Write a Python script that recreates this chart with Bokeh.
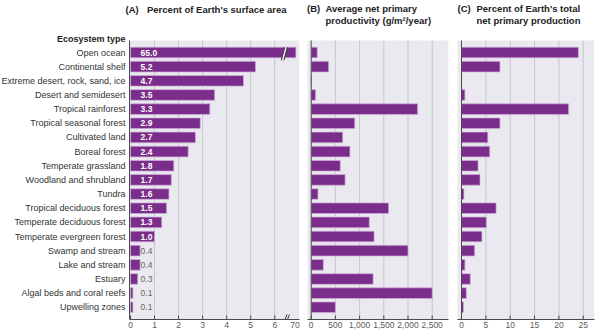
from bokeh.plotting import figure
from bokeh.models import ColumnDataSource, Range1d, FixedTicker, NumeralTickFormatter
from bokeh.layouts import row
from bokeh.embed import file_html
from bokeh.resources import INLINE
from bokeh.core.properties import value

# ---------------- data ----------------
ecosystems = [
    "Open ocean", "Continental shelf", "Extreme desert, rock, sand, ice",
    "Desert and semidesert", "Tropical rainforest", "Tropical seasonal forest",
    "Cultivated land", "Boreal forest", "Temperate grassland",
    "Woodland and shrubland", "Tundra", "Tropical deciduous forest",
    "Temperate deciduous forest", "Temperate evergreen forest",
    "Swamp and stream", "Lake and stream", "Estuary",
    "Algal beds and coral reefs", "Upwelling zones",
]
area_pct = [65.0, 5.2, 4.7, 3.5, 3.3, 2.9, 2.7, 2.4, 1.8, 1.7, 1.6, 1.5, 1.3, 1.0,
            0.4, 0.4, 0.3, 0.1, 0.1]
npp = [125, 360, 3, 90, 2200, 900, 650, 800, 600, 700, 140, 1600, 1200, 1300,
       2000, 250, 1280, 2500, 500]
npp_pct = [24.0, 7.9, 0.04, 0.7, 22.0, 7.9, 5.4, 5.8, 3.4, 3.8, 0.5, 7.1, 5.1, 4.2,
           2.7, 0.7, 1.8, 1.0, 0.4]

area_ticks = [0, 1, 2, 3, 4, 5, 6]
area_break_tick = 6.84
area_break_label = "70"
npp_ticks = [0, 500, 1000, 1500, 2000, 2500]
pct_ticks = [0, 5, 10, 15, 20, 25]

title_a = ("(A)", "Percent of Earth's surface area")
title_b = ("(B)", "Average net primary", "productivity (g/m\u00b2/year)")
title_c = ("(C)", "Percent of Earth's total", "net primary production")
header = "Ecosystem type"

# ---------------- style / geometry ----------------
FONT = "Liberation Sans"
BAR = "#7B2D8B"
BAR_EDGE = "#CFAED8"
BG = "#E9E9EF"
GRID = "#C6C6CD"
AXIS = "#4A4A4A"
TICKLBL = "#5A5A5A"
TITLE_SIZE = "9.5px"
H = 336
BOTTOM = 17
FRAME_H = H - BOTTOM            # frame spans canvas y 0..319
ROW0_PX = 52.0
ROW_PX = 14.155
PANEL_TOP_PX = 40
n = len(ecosystems)
rows = list(range(n))
Y_TOP = -ROW0_PX / ROW_PX
Y_BOT = (FRAME_H - ROW0_PX) / ROW_PX


def ypx(px):
    return Y_TOP + px * (Y_BOT - Y_TOP) / FRAME_H


def make_panel(width, canvas_left, frame_right_border, zero_px, px_per_unit, gray_left_px):
    frame_w = width - frame_right_border
    xs = (canvas_left - zero_px) / px_per_unit
    xe = xs + frame_w / px_per_unit
    gray_left = (gray_left_px - zero_px) / px_per_unit
    p = figure(width=width, height=H, x_range=Range1d(xs, xe),
               y_range=Range1d(Y_BOT, Y_TOP), output_backend="svg",
               toolbar_location=None, min_border_left=0,
               min_border_right=frame_right_border, min_border_top=0,
               min_border_bottom=BOTTOM, background_fill_color="white",
               border_fill_color="white", outline_line_color=None,
               y_axis_location=None, title=None)
    p.xgrid.grid_line_color = None
    p.ygrid.grid_line_color = None
    p.xaxis.bounds = (gray_left, xe)
    p.xaxis.axis_line_color = AXIS
    p.xaxis.major_tick_in = 0
    p.xaxis.major_tick_out = 0
    p.xaxis.minor_tick_line_color = None
    p.xaxis.major_label_standoff = 2
    p.xaxis.major_label_text_font = FONT
    p.xaxis.major_label_text_font_size = "8.5px"
    p.xaxis.major_label_text_color = TICKLBL
    # gray panel
    p.quad(left=[gray_left], right=[xe], top=[ypx(PANEL_TOP_PX)], bottom=[Y_BOT],
           fill_color=BG, line_color=None)
    to_x = lambda px: (px - zero_px) / px_per_unit
    return p, to_x, gray_left, xe


def grid_and_ticks(p, ticks):
    p.segment(x0=ticks[1:], y0=[ypx(PANEL_TOP_PX)] * (len(ticks) - 1),
              x1=ticks[1:], y1=[Y_BOT] * (len(ticks) - 1), line_color=GRID, line_width=1)
    p.segment(x0=ticks, y0=[Y_BOT] * len(ticks), x1=ticks, y1=[ypx(FRAME_H - 4)] * len(ticks),
              line_color=AXIS, line_width=1)


def txt(p, xs, ys, texts, size="10px", bold=True, align="left", color="#222222"):
    p.text(x=xs, y=ys, text=texts, text_font=value(FONT), text_font_size=value(size),
           text_font_style="bold" if bold else "normal", text_align=align,
           text_baseline="middle", text_color=color)


def bars(p, vals):
    src = ColumnDataSource(dict(row=rows, v=vals))
    p.hbar(y="row", right="v", left=0, height=0.75, source=src,
           fill_color=BAR, line_color=BAR_EDGE, line_width=0.7)


# ---------------- panel A ----------------
pA, xA, glA, xeA = make_panel(303, 0, 4, 130.0, 24.04, 129.0)
AREA_CAP = 6.88
grid_and_ticks(pA, area_ticks)
bars(pA, [min(v, AREA_CAP) for v in area_pct])
hi = [(i, v) for i, v in enumerate(area_pct) if v >= 1]
lo = [(i, v) for i, v in enumerate(area_pct) if v < 1]
txt(pA, [0.42] * len(hi), [i for i, _ in hi], [f"{v:.1f}" for _, v in hi],
    size="8.5px", color="white")
txt(pA, [0.42] * len(lo), [i for i, _ in lo], [f"{v:.1f}" for _, v in lo],
    size="8.5px", bold=False, color="#666666")
# left axis line
pA.segment(x0=[glA], y0=[ypx(PANEL_TOP_PX)], x1=[glA], y1=[Y_BOT], line_color=AXIS, line_width=1)
# category names
txt(pA, [xA(125)] * n, rows, ecosystems, size="9px", bold=False, align="right", color="#333333")
txt(pA, [xA(125)], [ypx(38.3)], [header], size="9px", align="right")
txt(pA, [xA(125), xA(146.5)], [ypx(9), ypx(9)], list(title_a), size=TITLE_SIZE)
# axis break marks
bx = 6.4
pA.patch([bx - 0.125, bx + 0.015, bx + 0.125, bx - 0.015],
         [0.55, -0.38, -0.38, 0.55], fill_color=BG, line_color=None)
pA.segment(x0=[bx - 0.125, bx - 0.015], y0=[0.55, 0.55],
           x1=[bx + 0.015, bx + 0.125], y1=[-0.38, -0.38], line_color="#333333", line_width=1)
abx = 6.53
pA.segment(x0=[abx - 0.1, abx], y0=[Y_BOT, Y_BOT], x1=[abx - 0.02, abx + 0.08],
           y1=[ypx(FRAME_H - 5), ypx(FRAME_H - 5)], line_color="#333333", line_width=1)
pA.xaxis.ticker = FixedTicker(ticks=area_ticks + [area_break_tick])
pA.xaxis.major_label_overrides = {area_break_tick: area_break_label}

# ---------------- panel B ----------------
pB, xB, glB, xeB = make_panel(149, 303, 4, 310.7, 24.2 / 500, 307.0)
grid_and_ticks(pB, npp_ticks)
bars(pB, npp)
pB.segment(x0=[0], y0=[ypx(PANEL_TOP_PX)], x1=[0], y1=[Y_BOT], line_color=AXIS, line_width=1)
pB.xaxis.ticker = FixedTicker(ticks=npp_ticks)
pB.xaxis.formatter = NumeralTickFormatter(format="0,0")
txt(pB, [xB(306.5), xB(325), xB(325)], [ypx(7.5), ypx(7.5), ypx(20)], list(title_b),
    size=TITLE_SIZE)

# ---------------- panel C ----------------
pC, xC, glC, xeC = make_panel(148, 452, 6, 461.0, 24.35 / 5, 457.0)
grid_and_ticks(pC, pct_ticks)
bars(pC, npp_pct)
pC.segment(x0=[0], y0=[ypx(PANEL_TOP_PX)], x1=[0], y1=[Y_BOT], line_color=AXIS, line_width=1)
pC.xaxis.ticker = FixedTicker(ticks=pct_ticks)
txt(pC, [xC(457), xC(476), xC(476)], [ypx(7.5), ypx(7.5), ypx(20)], list(title_c),
    size=TITLE_SIZE)

layout = row(pA, pB, pC)
open("out.html", "w").write(file_html(layout, INLINE))
